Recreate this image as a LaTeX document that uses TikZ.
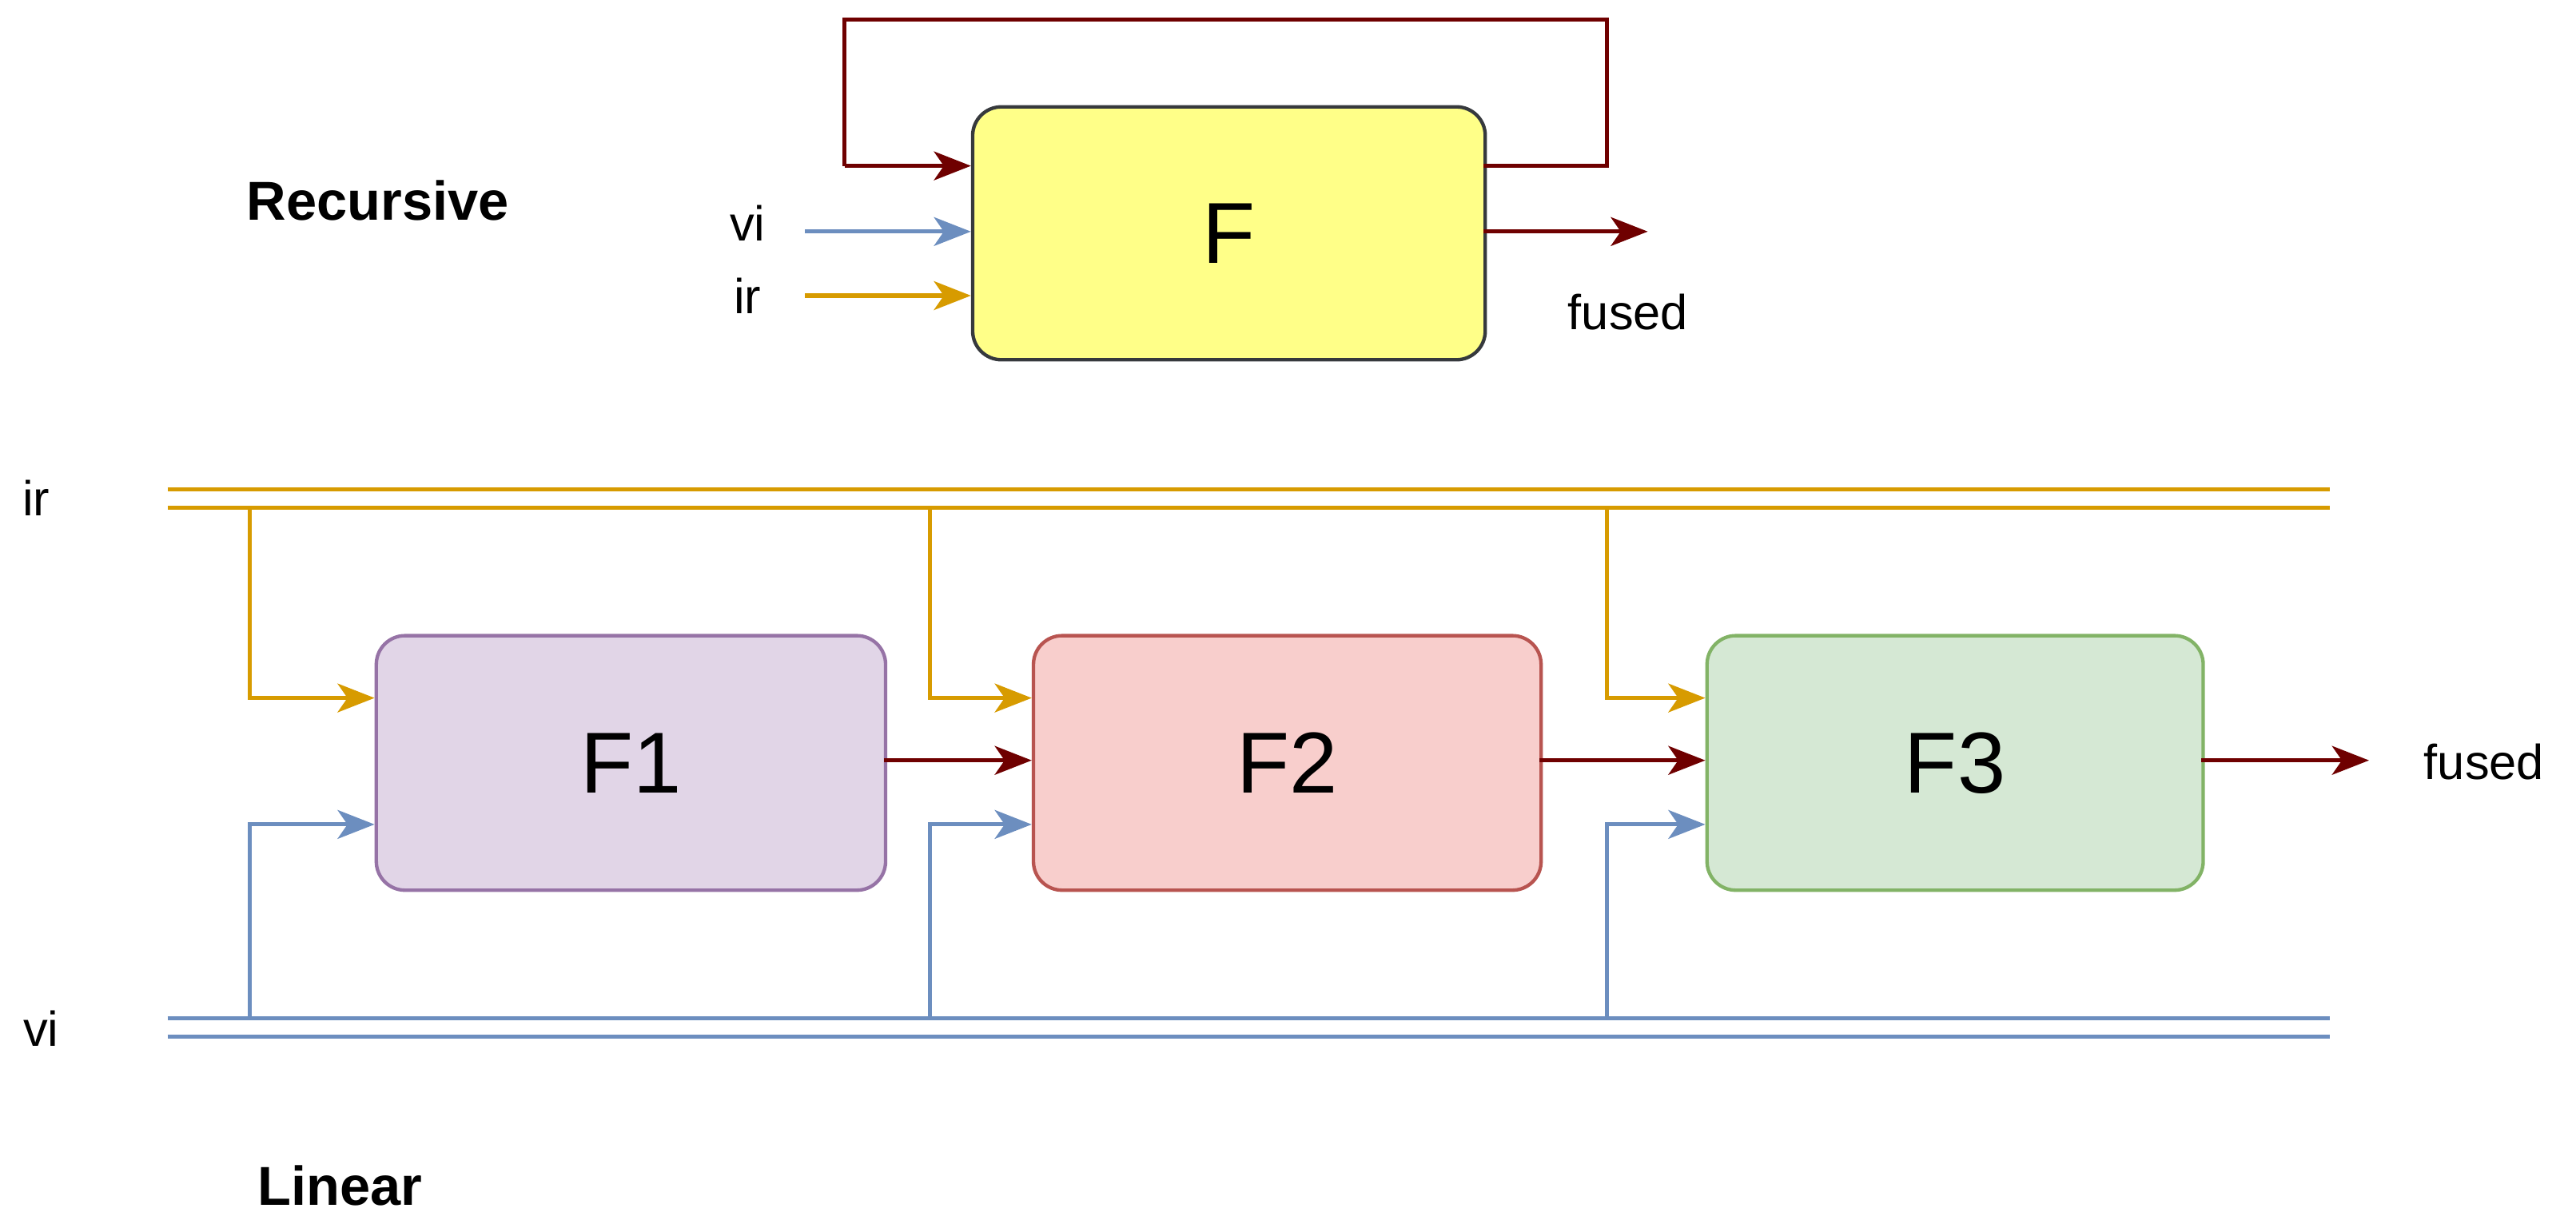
\documentclass[tikz,border=0pt]{standalone}
\usepackage{fontspec}
\setmainfont{Liberation Sans}
\usetikzlibrary{arrows.meta}
\begin{document}
\begin{tikzpicture}[x=0.02cm,y=-0.02cm,
 box/.style={draw,rounded corners=0.35cm,line width=1.2pt,inner sep=0,anchor=north west},
 ln/.style={line width=1.4pt},
 arr/.style={ln,-{Stealth[length=0.45cm,width=0.35cm,inset=0.12cm]}},
 lab/.style={font=\fontsize{17}{20}\selectfont},
 big/.style={font=\fontsize{30}{34}\selectfont}]
\definecolor{dred}{HTML}{6F0000}
\definecolor{blu}{HTML}{6C8EBF}
\definecolor{ora}{HTML}{D79B00}
\definecolor{yel}{HTML}{FFFF88}
\definecolor{yeld}{HTML}{36393D}
\definecolor{pf}{HTML}{E1D5E7}\definecolor{pd}{HTML}{9673A6}
\definecolor{rf}{HTML}{F8CECC}\definecolor{rd}{HTML}{B85450}
\definecolor{gf}{HTML}{D5E8D4}\definecolor{gd}{HTML}{82B366}
\useasboundingbox (0,0) rectangle (1568,745);
% recursive
\node[box,fill=yel,draw=yeld,minimum width=312*0.02cm,minimum height=154*0.02cm] (F) at (591,64) {};
\node[big] at (F.center) {F};
\coordinate (fb1) at (978,101);
\coordinate (fb2) at (978,12);
\coordinate (fb3) at (514,12);
\coordinate (fb4) at (514,101);
\draw[ln,dred] (903,101) -- (fb1) -- (fb2) -- (fb3) -- (fb4);
\draw[arr,dred] (fb4) -- (591,101);
\coordinate (vis) at (490,141);
\coordinate (irs) at (490,180);
\draw[arr,blu] (vis) -- (591,141);
\draw[arr,ora] (irs) -- (591,180);
\node[lab] (vil) at (455,136) {vi};
\node[lab] (irl) at (455,180) {ir};
\coordinate (fo) at (1003,141);
\draw[arr,dred] (903,141) -- (fo);
\node[lab] (fl) at (991,190) {fused};
\node[lab,font=\fontsize{19}{22}\selectfont\bfseries] (rec) at (230,122) {Recursive};
% linear
\draw[ora,ln] (102,298) -- (1418,298) (102,309) -- (1418,309);
\draw[blu,ln] (102,620) -- (1418,620) (102,631) -- (1418,631);
\node[lab] (irL) at (22,303) {ir};
\node[lab] (viL) at (25,626) {vi};
\node[box,fill=pf,draw=pd,minimum width=310*0.02cm,minimum height=155*0.02cm] (F1) at (228,386) {};
\node[box,fill=rf,draw=rd,minimum width=309*0.02cm,minimum height=155*0.02cm] (F2) at (628,386) {};
\node[box,fill=gf,draw=gd,minimum width=302*0.02cm,minimum height=155*0.02cm] (F3) at (1038,386) {};
\node[big] at (F1.center) {F1};
\node[big] at (F2.center) {F2};
\node[big] at (F3.center) {F3};
\foreach \x/\t in {152/228,566/628,978/1038}{
 \draw[arr,ora] (\x,309) |- (\t,425);
 \draw[arr,blu] (\x,620) |- (\t,502);
}
\draw[arr,dred] (538,463) -- (628,463);
\draw[arr,dred] (937,463) -- (1038,463);
\coordinate (fo2) at (1442,463);
\draw[arr,dred] (1340,463) -- (fo2);
\node[lab] (fl2) at (1512,464) {fused};
\node[lab,font=\fontsize{19}{22}\selectfont\bfseries] (lin) at (207,722) {Linear};
\end{tikzpicture}
\end{document}
